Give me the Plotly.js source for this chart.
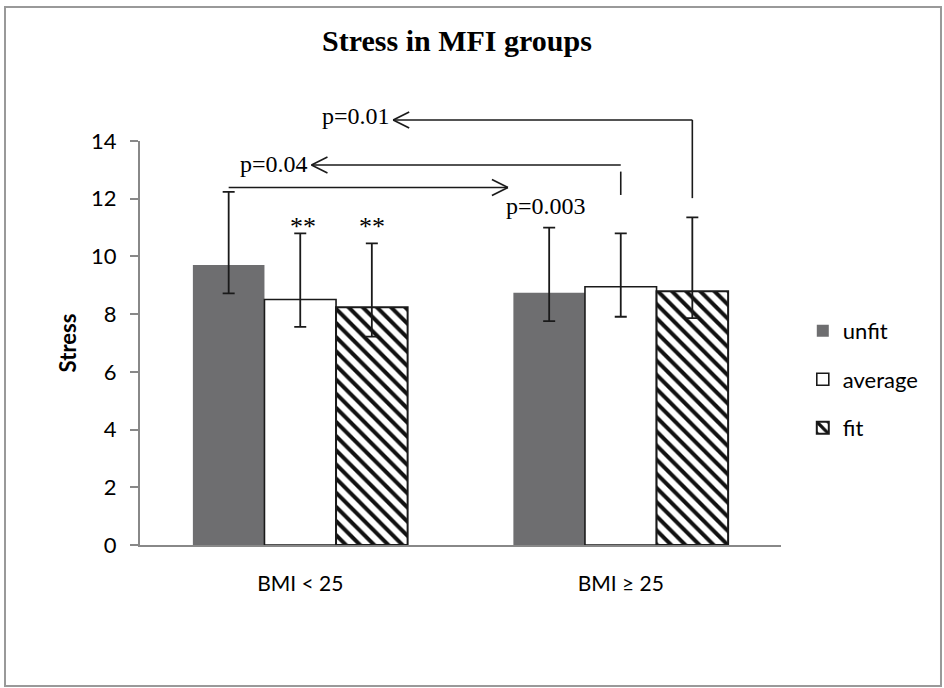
<!DOCTYPE html>
<html><head><meta charset="utf-8">
<script src="https://cdn.plot.ly/plotly-3.0.1.min.js"></script>
<style>html,body{margin:0;padding:0;background:#fff}</style>
</head><body><div id="chart" style="width:944px;height:688px"></div>
<script>
// ---- data ----
const categories = ["BMI < 25", "BMI \u2265 25"];
const seriesNames = ["unfit", "average", "fit"];
const unfitMean = [9.70, 8.74];
const unfitErrPlus = [2.54, 2.26];
const unfitErrMinus = [0.98, 0.98];
const averageMean = [8.51, 8.95];
const averageErrPlus = [2.29, 1.85];
const averageErrMinus = [0.95, 1.04];
const fitMean = [8.24, 8.79];
const fitErrPlus = [2.21, 2.56];
const fitErrMinus = [1.02, 0.93];
const yTicks = [0, 2, 4, 6, 8, 10, 12, 14];
const yMax = 14;
// significance annotations
const pLabels = ["p=0.01", "p=0.04", "p=0.003"];
const pLevels = [14.73, 13.17, 12.39];      // stress level of each bracket line
const pTipX = [0.29, 0.035, 0.648];         // category position of each arrow tip
const pDropEnd = [[14.73, 12.02], [12.94, 12.13]]; // vertical drops (p=0.01, p=0.04)
const starLabel = "**";
const starLevel = 11.26;

const bargap = 0.33;
const w = (1 - bargap) / 3;           // width of one bar in category units
const off = {unfit: -w, average: 0, fit: w};
const ink = '#1a1a1a';

function errs(plus, minus) {
  return {type: 'data', symmetric: false, array: plus, arrayminus: minus,
          color: ink, thickness: 1.8, width: 6};
}

const traces = [
  {type: 'bar', name: seriesNames[0], x: categories, y: unfitMean, legendgroup: 'a',
   marker: {color: '#6e6e70', line: {width: 0}}, error_y: errs(unfitErrPlus, unfitErrMinus)},
  {type: 'bar', name: seriesNames[1], x: categories, y: averageMean, legendgroup: 'b',
   marker: {color: '#ffffff', line: {color: ink, width: 1.6}}, error_y: errs(averageErrPlus, averageErrMinus)},
  {type: 'bar', name: seriesNames[2], x: categories, y: fitMean, legendgroup: 'c',
   marker: {color: '#ffffff', line: {color: ink, width: 2},
            pattern: {shape: '\\', size: 10, solidity: 0.4, fgcolor: '#111', bgcolor: '#fff', fillmode: 'replace'}},
   error_y: errs(fitErrPlus, fitErrMinus)}
];

function hline(x0, x1, yv) {
  return {type: 'line', xref: 'x', yref: 'paper', x0: x0, x1: x1, y0: yv / yMax, y1: yv / yMax,
          line: {color: ink, width: 1.6}};
}
function vline(xv, y0, y1) {
  return {type: 'line', xref: 'x', yref: 'paper', x0: xv, x1: xv, y0: y0 / yMax, y1: y1 / yMax,
          line: {color: ink, width: 1.6}};
}
function chevron(tipX, yv, dir) {
  const base = {type: 'line', xref: 'x', yref: 'paper', xsizemode: 'pixel', ysizemode: 'pixel',
                xanchor: tipX, yanchor: yv / yMax, x0: 0, y0: 0, line: {color: ink, width: 1.6}};
  return [Object.assign({}, base, {x1: dir * 16, y1: 8}), Object.assign({}, base, {x1: dir * 16, y1: -8})];
}

const shapes = [
  // page frame
  {type: 'rect', xref: 'paper', yref: 'paper', x0: -0.2106, x1: 1.2496, y0: -0.349, y1: 1.3317,
   line: {color: '#999999', width: 2}},
  // p=0.01 : from fit (BMI>=25) to fit (BMI<25)
  hline(pTipX[0], 1 + off.fit, pLevels[0]),
  vline(1 + off.fit, pDropEnd[0][0], pDropEnd[0][1]),
  ...chevron(pTipX[0], pLevels[0], 1),
  // p=0.04 : from average (BMI>=25) to average (BMI<25)
  hline(pTipX[1], 1 + off.average, pLevels[1]),
  vline(1 + off.average, pDropEnd[1][0], pDropEnd[1][1]),
  ...chevron(pTipX[1], pLevels[1], 1),
  // p=0.003 : from unfit (BMI<25) to unfit (BMI>=25)
  hline(off.unfit, pTipX[2], pLevels[2]),
  ...chevron(pTipX[2], pLevels[2], -1)
];

const serifFam = 'Liberation Serif, Times New Roman, serif';
const serif = {family: serifFam, size: 24, color: '#000'};
const starFont = {family: serifFam, size: 26, color: '#000'};
const annotations = [
  {x: pTipX[0], y: pLevels[0] / yMax, xref: 'x', yref: 'paper', text: pLabels[0], showarrow: false,
   xanchor: 'right', yanchor: 'middle', xshift: -1, yshift: 4, font: serif},
  {x: pTipX[1], y: pLevels[1] / yMax, xref: 'x', yref: 'paper', text: pLabels[1], showarrow: false,
   xanchor: 'right', yanchor: 'middle', xshift: -1, yshift: 1, font: serif},
  {x: pTipX[2], y: pLevels[2] / yMax, xref: 'x', yref: 'paper', text: pLabels[2], showarrow: false,
   xanchor: 'left', yanchor: 'middle', xshift: -4, yshift: -19, font: serif},
  {x: off.average, y: starLevel / yMax, xref: 'x', yref: 'paper', text: starLabel, showarrow: false,
   xanchor: 'center', yanchor: 'middle', xshift: 3, yshift: -6, font: starFont},
  {x: off.fit, y: starLevel / yMax, xref: 'x', yref: 'paper', text: starLabel, showarrow: false,
   xanchor: 'center', yanchor: 'middle', xshift: 0, yshift: -6, font: starFont}
];

const sans = 'Lato, Open Sans, sans-serif';
const layout = {
  width: 944, height: 688,
  margin: {l: 140, r: 163, t: 141, b: 143, autoexpand: false},
  paper_bgcolor: '#fff', plot_bgcolor: '#fff',
  barmode: 'group', bargap: bargap, bargroupgap: 0,
  title: {text: '<b>Stress in MFI groups</b>', font: {family: serifFam, size: 30, color: '#000'},
          x: 0.4945, xref: 'paper', xanchor: 'center', y: 1 - 40 / 688, yref: 'container', yanchor: 'middle'},
  xaxis: {type: 'category', range: [-0.5, 1.5], showline: true, linecolor: '#888', linewidth: 2,
          ticks: '', showgrid: false, zeroline: false, automargin: false,
          tickfont: {family: sans, size: 21, color: '#000'}, ticklabelstandoff: 19},
  yaxis: {range: [0, yMax], tickvals: yTicks, ticktext: yTicks.map(String), showline: true, linecolor: '#888', linewidth: 2,
          ticks: 'outside', ticklen: 8, tickwidth: 2, tickcolor: '#888', showgrid: false, zeroline: false,
          automargin: false, tickfont: {family: sans, size: 22, color: '#000'}, ticklabelstandoff: 9,
          title: {text: '<b>Stress</b>', font: {family: sans, size: 22, color: '#000'}, standoff: 8}},
  legend: {x: 1.034, xanchor: 'left', y: 0.41, yanchor: 'middle', traceorder: 'grouped', tracegroupgap: 17,
           font: {family: sans, size: 22, color: '#000'}, bgcolor: 'rgba(0,0,0,0)'},
  showlegend: true,
  shapes: shapes,
  annotations: annotations
};

Plotly.newPlot('chart', traces, layout, {displayModeBar: false, staticPlot: true});
</script>
</body></html>
